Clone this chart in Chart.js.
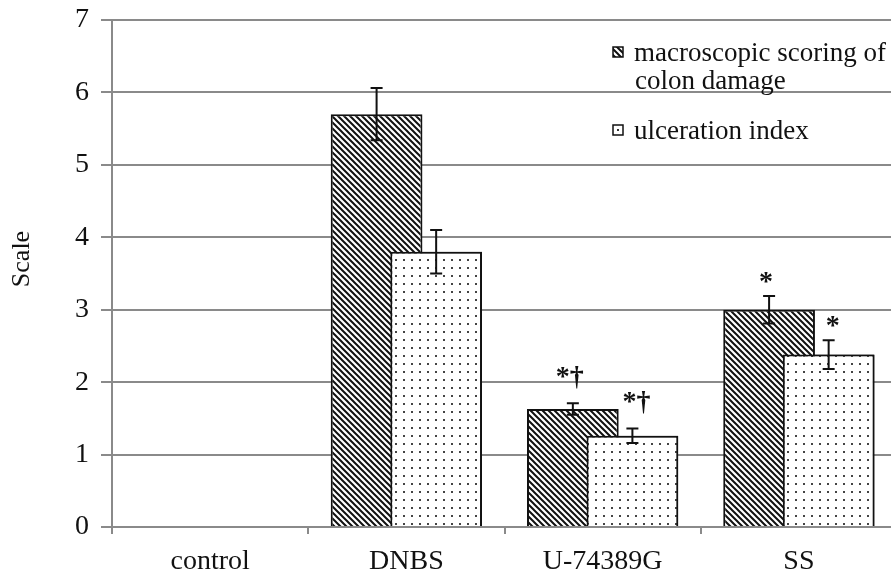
<!DOCTYPE html>
<html>
<head>
<meta charset="utf-8">
<script src="https://cdn.jsdelivr.net/npm/chart.js@4.4.0/dist/chart.umd.min.js"></script>
<style>
  html, body { margin: 0; padding: 0; background: #fff; overflow: hidden; }
  #wrap { position: absolute; left: 0; top: 0; width: 897px; height: 575px; }
</style>
</head>
<body>
<div id="wrap"><canvas id="chart"></canvas></div>
<script>
const categories = ['control', 'DNBS', 'U-74389G', 'SS'];
const macroScore = [null, 5.7, 1.63, 3.0];
const macroError = [null, 0.36, 0.08, 0.19];
const ulcerIndex = [null, 3.8, 1.26, 2.38];
const ulcerError = [null, 0.3, 0.1, 0.2];
const macroMarks = ['', '', '*\u2020', '*'];
const ulcerMarks = ['', '', '*\u2020', '*'];
const yTicks = [0, 1, 2, 3, 4, 5, 6, 7];

const serif = 'Liberation Serif';

function hatchPattern() {
    const c = document.createElement('canvas');
    c.width = 6; c.height = 6;
    const g = c.getContext('2d');
    g.fillStyle = '#fff';
    g.fillRect(0, 0, 6, 6);
    g.strokeStyle = '#111';
    g.lineWidth = 2;
    g.beginPath();
    g.moveTo(-1, -1); g.lineTo(7, 7);
    g.moveTo(-1, 5); g.lineTo(1, 7);
    g.moveTo(5, -1); g.lineTo(7, 1);
    g.stroke();
    return g.createPattern(c, 'repeat');
}

function dotPattern() {
    const c = document.createElement('canvas');
    c.width = 8; c.height = 8;
    const g = c.getContext('2d');
    g.fillStyle = '#fff';
    g.fillRect(0, 0, 8, 8);
    g.fillStyle = '#444';
    g.fillRect(3, 3, 2, 2);
    return g.createPattern(c, 'repeat');
}

const hatch = hatchPattern();
const dots = dotPattern();
const errors = [macroError, ulcerError];
const marks = [macroMarks, ulcerMarks];
const markShift = [-3, 4];

// error bars and the significance marks above them
// (the ulceration bars are drawn once more first so they sit on top of the hatched ones)
const errorBars = {
    id: 'errorBars',
    afterDatasetsDraw(chart) {
        const ctx = chart.ctx;
        const y = chart.scales.y;
        ctx.save();
        chart.getDatasetMeta(1).controller.draw();
        chart.data.datasets.forEach(function(ds, di) {
            const meta = chart.getDatasetMeta(di);
            meta.data.forEach(function(bar, i) {
                const v = ds.data[i];
                const e = errors[di][i];
                if (v == null || e == null) return;
                const top = y.getPixelForValue(v + e);
                const bot = y.getPixelForValue(v - e);
                ctx.strokeStyle = '#111';
                ctx.lineWidth = 2;
                ctx.beginPath();
                ctx.moveTo(bar.x, top); ctx.lineTo(bar.x, bot);
                ctx.moveTo(bar.x - 6, top); ctx.lineTo(bar.x + 6, top);
                ctx.moveTo(bar.x - 6, bot); ctx.lineTo(bar.x + 6, bot);
                ctx.stroke();
                const m = marks[di][i];
                if (m) {
                    ctx.fillStyle = '#111';
                    ctx.font = 'bold 28px "' + serif + '"';
                    ctx.textAlign = 'center';
                    ctx.textBaseline = 'alphabetic';
                    // the dagger hangs low, so lift the two-symbol marks a bit more
                    const lift = m.length > 1 ? 18 : 6;
                    ctx.fillText(m, bar.x + markShift[di], top - lift);
                }
            });
        });
        ctx.restore();
    }
};

// legend in the top right corner plus the y axis title
const extras = {
    id: 'extras',
    afterDraw(chart) {
        const ctx = chart.ctx;
        ctx.save();
        ctx.fillStyle = hatch;
        ctx.fillRect(613, 47, 10, 10);
        ctx.strokeStyle = '#111';
        ctx.lineWidth = 1.5;
        ctx.strokeRect(613, 47, 10, 10);
        ctx.fillStyle = '#fff';
        ctx.fillRect(613, 125, 10, 10);
        ctx.strokeRect(613, 125, 10, 10);
        ctx.fillStyle = '#333';
        ctx.fillRect(617, 129, 2, 2);

        ctx.fillStyle = '#111';
        ctx.font = '27px "' + serif + '"';
        ctx.textAlign = 'left';
        ctx.textBaseline = 'alphabetic';
        ctx.fillText('macroscopic scoring of', 634, 61);
        ctx.fillText('colon damage', 635, 89);
        ctx.fillText('ulceration index', 634, 139);

        ctx.translate(22, 259);
        ctx.rotate(-Math.PI / 2);
        ctx.textAlign = 'center';
        ctx.textBaseline = 'middle';
        ctx.font = '26px "' + serif + '"';
        ctx.fillText('Scale', 0, 0);
        ctx.restore();
    }
};

new Chart(document.getElementById('chart'), {
    type: 'bar',
    data: {
        labels: categories,
        datasets: [{
            label: 'macroscopic scoring of colon damage',
            data: macroScore,
            backgroundColor: hatch,
            borderColor: '#111',
            borderWidth: 2,
            categoryPercentage: 0.607,
            barPercentage: 1.54
        }, {
            label: 'ulceration index',
            data: ulcerIndex,
            backgroundColor: dots,
            borderColor: '#111',
            borderWidth: 2,
            categoryPercentage: 0.607,
            barPercentage: 1.54
        }]
    },
    options: {
        responsive: true,
        maintainAspectRatio: false,
        animation: false,
        layout: { padding: { top: 20, left: 0, right: 0, bottom: 0 } },
        plugins: {
            legend: { display: false },
            tooltip: { enabled: false }
        },
        scales: {
            x: {
                grid: {
                    offset: true,
                    drawOnChartArea: false,
                    drawTicks: true,
                    tickLength: 7,
                    color: '#8a8a8a',
                    lineWidth: 2
                },
                border: { color: '#8a8a8a', width: 2 },
                ticks: {
                    font: { family: serif, size: 28 },
                    color: '#111',
                    padding: 11
                },
                afterFit(scale) { scale.height = 48; }
            },
            y: {
                min: 0,
                max: 7,
                afterBuildTicks(scale) {
                    scale.ticks = yTicks.map(function(v) { return { value: v }; });
                },
                grid: {
                    color: '#8a8a8a',
                    lineWidth: 2,
                    drawTicks: true,
                    tickLength: 11
                },
                border: { color: '#8a8a8a', width: 2 },
                ticks: {
                    font: { family: serif, size: 28 },
                    color: '#111',
                    padding: 12
                },
                afterFit(scale) {
                    scale.width = 112;
                    scale.paddingTop = 0;
                    scale.paddingBottom = 0;
                }
            }
        }
    },
    plugins: [errorBars, extras]
});
</script>
</body>
</html>
